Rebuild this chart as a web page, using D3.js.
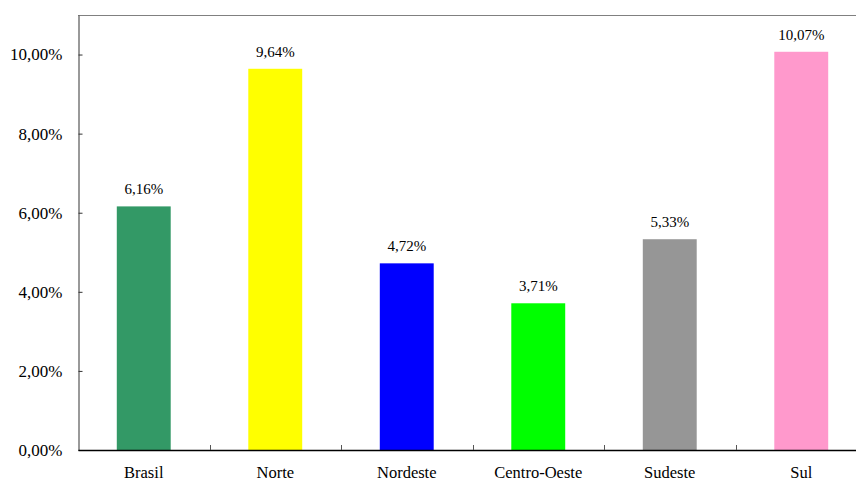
<!DOCTYPE html>
<html><head><meta charset="utf-8">
<script src="https://cdn.jsdelivr.net/npm/d3@7"></script>
<style>html,body{margin:0;padding:0;background:#fff;}svg{display:block;}</style>
</head><body>
<svg id="chart" width="856" height="487"></svg>
<script>
const categories = ["Brasil", "Norte", "Nordeste", "Centro-Oeste", "Sudeste", "Sul"];
const values = [6.16, 9.64, 4.72, 3.71, 5.33, 10.07];
const valueLabels = ["6,16%", "9,64%", "4,72%", "3,71%", "5,33%", "10,07%"];
const colors = ["#339966", "#FFFF00", "#0000FF", "#00FF00", "#969696", "#FF99CC"];
const yTicks = [0, 2, 4, 6, 8, 10];
const yTickLabels = ["0,00%", "2,00%", "4,00%", "6,00%", "8,00%", "10,00%"];

const FONT = "Liberation Serif, DejaVu Serif, Times New Roman, serif";
const svg = d3.select("#chart");
const mLeft = 78, mRight = 867, mTop = 15, mBottom = 450;

const x = d3.scaleBand().domain(categories).range([mLeft, mRight]).paddingInner(0.59).paddingOuter(0.295);
const y = d3.scaleLinear().domain([0, 11]).range([mBottom, mTop]);
const step = x.step();

// top border
svg.append("line").attr("x1", mLeft).attr("x2", 856).attr("y1", mTop + 0.5).attr("y2", mTop + 0.5)
  .attr("stroke", "#808080").attr("stroke-width", 1);

// bars
svg.selectAll("rect.bar").data(values).join("rect")
  .attr("class", "bar")
  .attr("x", (d, i) => x(categories[i]))
  .attr("width", x.bandwidth())
  .attr("y", d => y(d))
  .attr("height", d => y(0) - y(d))
  .attr("fill", (d, i) => colors[i]);

// data labels
svg.selectAll("text.val").data(values).join("text")
  .attr("class", "val")
  .attr("x", (d, i) => x(categories[i]) + x.bandwidth() / 2)
  .attr("y", d => y(d) - 12)
  .attr("text-anchor", "middle")
  .style("font-family", FONT)
  .style("font-size", "15px").attr("fill", "#000")
  .text((d, i) => valueLabels[i]);

// y axis
const yAxis = d3.axisLeft(y).tickValues(yTicks).tickSizeInner(-4).tickSizeOuter(0)
  .tickFormat((d, i) => yTickLabels[i]).tickPadding(16);
const gy = svg.append("g").attr("transform", `translate(${mLeft + 0.5},0)`).call(yAxis);
gy.attr("font-family", null).attr("font-size", null);
gy.select(".domain").attr("stroke", "#555").attr("stroke-width", 1.2);
gy.selectAll(".tick line").attr("stroke", "#333");
gy.selectAll(".tick text").style("font-family", FONT).style("font-size", "17px").attr("fill", "#000");

// x axis
const xAxis = d3.axisBottom(x).tickSize(0).tickPadding(16);
const gx = svg.append("g").attr("transform", `translate(0,${mBottom})`).call(xAxis);
gx.attr("font-family", null).attr("font-size", null);
gx.select(".domain").attr("stroke", "#000").attr("stroke-width", 1.5);
gx.selectAll(".tick text").style("font-family", FONT).style("font-size", "16.5px").attr("fill", "#000")
  .attr("dy", "0.71em");

// x separator ticks (between bands)
const seps = categories.slice(1).map(c => x(c) - (step - x.bandwidth()) / 2);
svg.selectAll("line.sep").data(seps).join("line")
  .attr("class", "sep")
  .attr("x1", d => Math.round(d) + 0.5).attr("x2", d => Math.round(d) + 0.5)
  .attr("y1", mBottom).attr("y2", mBottom - 5)
  .attr("stroke", "#555").attr("stroke-width", 1);
</script>
</body></html>
